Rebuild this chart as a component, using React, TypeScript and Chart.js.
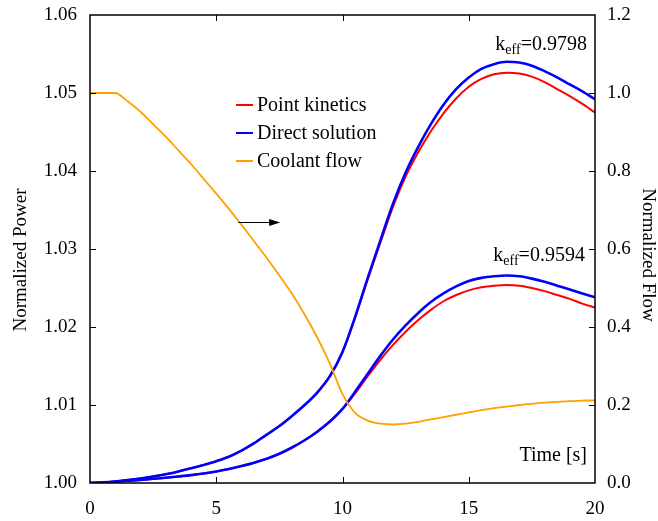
import { useEffect, useRef } from "react";
import { Chart, registerables } from "chart.js";

Chart.register(...registerables);

// ---- data ----
const time = [
  0, 0.5, 1, 1.5, 2, 2.5, 3, 3.5, 4, 4.5, 5, 5.5, 6, 6.5, 7, 7.5, 8, 8.5, 9, 9.5, 10,
  10.5, 11, 11.5, 12, 12.5, 13, 13.5, 14, 14.5, 15, 15.5, 16, 16.5, 17, 17.5, 18, 18.5, 19, 19.5, 20,
];

// keff = 0.9798, direct solution
const directHigh = [
  1.0, 1.00008, 1.0002, 1.00037, 1.00058, 1.00083, 1.00112, 1.00148, 1.00188, 1.00232, 1.0028, 1.00337,
  1.00415, 1.0051, 1.0062, 1.0073, 1.0086, 1.01, 1.0116, 1.0137, 1.0168, 1.0213, 1.0263, 1.0311, 1.0358,
  1.0398, 1.0431, 1.046, 1.0485, 1.0505, 1.052, 1.0531, 1.0537, 1.054, 1.0539, 1.0535, 1.0528, 1.052,
  1.0511, 1.0502, 1.0492,
];
// keff = 0.9798, point kinetics
const pointHigh = [
  1.0, 1.00008, 1.0002, 1.00037, 1.00058, 1.00083, 1.00112, 1.00148, 1.00188, 1.00232, 1.0028, 1.00337,
  1.00415, 1.0051, 1.0062, 1.0073, 1.0086, 1.01, 1.0116, 1.0137, 1.0168, 1.0212, 1.0261, 1.0308, 1.0354,
  1.0393, 1.0424, 1.0451, 1.0474, 1.0493, 1.0508, 1.0518, 1.0524, 1.0526, 1.0525, 1.0521, 1.0514, 1.0505,
  1.0496, 1.0486, 1.0475,
];
// keff = 0.9594, direct solution
const directLow = [
  1.0, 1.00005, 1.00015, 1.00028, 1.0004, 1.00054, 1.00068, 1.00084, 1.00101, 1.00122, 1.00148, 1.0018,
  1.00217, 1.0026, 1.00311, 1.00375, 1.00455, 1.00548, 1.00658, 1.00788, 1.0095, 1.0117, 1.014, 1.0163,
  1.0184, 1.0202, 1.0218, 1.0232, 1.0243, 1.0252, 1.0259, 1.0263, 1.0265, 1.0266, 1.0265, 1.0262, 1.0258,
  1.0253, 1.0248, 1.0243, 1.0238,
];
// keff = 0.9594, point kinetics
const pointLow = [
  1.0, 1.00005, 1.00015, 1.00028, 1.0004, 1.00054, 1.00068, 1.00084, 1.00101, 1.00122, 1.00148, 1.0018,
  1.00217, 1.0026, 1.00311, 1.00375, 1.00455, 1.00548, 1.00658, 1.00788, 1.0095, 1.0115, 1.0137, 1.0158,
  1.0177, 1.0194, 1.0209, 1.0222, 1.0233, 1.0241, 1.0247, 1.0251, 1.0253, 1.0254, 1.0253, 1.025, 1.0246,
  1.0241, 1.0236, 1.023, 1.0225,
];
// normalized coolant flow (right axis)
const coolantFlow = [
  1.0, 1.0, 1.0, 0.978, 0.952, 0.92, 0.888, 0.853, 0.818, 0.78, 0.742, 0.703, 0.662, 0.62, 0.577, 0.532,
  0.485, 0.432, 0.373, 0.306, 0.228, 0.18, 0.16, 0.152, 0.15, 0.152, 0.157, 0.163, 0.169, 0.175, 0.181,
  0.187, 0.192, 0.196, 0.2, 0.203, 0.206, 0.208, 0.21, 0.211, 0.212,
];

const seriesLabels = ["Point kinetics", "Direct solution", "Coolant flow"];
const axisTitles = ["Normalized Power", "Normalized Flow"];
const keffLabels = ["0.9798", "0.9594"];
const keffAnchors = [
  { x: 19.68, y: 1.0555 },
  { x: 19.6, y: 1.0284 },
];
const arrowFrom = { x: 5.87, y: 0.668 };
const arrowTo = { x: 7.53, y: 0.668 };

const RED = "#ff0000";
const BLUE = "#0000ff";
const ORANGE = "#ffa000";
const FONT = '"Liberation Serif", "Times New Roman", serif';

const pts = (ys: number[]) => time.map((t, i) => ({ x: t, y: ys[i] }));

const decorPlugin = {
  id: "decor",
  afterDatasetsDraw(chart: any) {
    const { ctx, chartArea: a, scales } = chart;
    const xs = scales.x;
    const yl = scales.y;
    const yr = scales.y2;
    ctx.save();
    // frame
    ctx.strokeStyle = "#000";
    ctx.lineWidth = 1.5;
    ctx.strokeRect(a.left, a.top, a.right - a.left, a.bottom - a.top);
    // inward ticks
    ctx.lineWidth = 1;
    const tl = 6;
    ctx.beginPath();
    for (const v of [5, 10, 15]) {
      const px = Math.round(xs.getPixelForValue(v)) + 0.5;
      ctx.moveTo(px, a.bottom);
      ctx.lineTo(px, a.bottom - tl);
      ctx.moveTo(px, a.top);
      ctx.lineTo(px, a.top + tl);
    }
    for (let k = 1; k < 6; k++) {
      const py = Math.round(yl.getPixelForValue(1 + k * 0.01)) + 0.5;
      ctx.moveTo(a.left, py);
      ctx.lineTo(a.left + tl, py);
    }
    for (let k = 1; k < 6; k++) {
      const py = Math.round(yr.getPixelForValue(k * 0.2)) + 0.5;
      ctx.moveTo(a.right, py);
      ctx.lineTo(a.right - tl, py);
    }
    ctx.stroke();

    // axis titles
    ctx.fillStyle = "#000";
    ctx.font = `19px ${FONT}`;
    ctx.textAlign = "center";
    ctx.textBaseline = "middle";
    const midY = (a.top + a.bottom) / 2;
    ctx.save();
    ctx.translate(a.left - 69, midY + 11);
    ctx.rotate(-Math.PI / 2);
    ctx.fillText(axisTitles[0], 0, 0);
    ctx.restore();
    ctx.save();
    ctx.translate(a.right + 53, midY + 6);
    ctx.rotate(Math.PI / 2);
    ctx.fillText(axisTitles[1], 0, 0);
    ctx.restore();

    // legend
    const colors = [RED, BLUE, ORANGE];
    const lx = a.left + 146;
    const ly = a.top + 90;
    ctx.font = `20px ${FONT}`;
    ctx.textBaseline = "middle";
    ctx.textAlign = "left";
    seriesLabels.forEach((lab, i) => {
      const y = ly + i * 28;
      ctx.strokeStyle = colors[i];
      ctx.lineWidth = 2;
      ctx.beginPath();
      ctx.moveTo(lx, y);
      ctx.lineTo(lx + 17, y);
      ctx.stroke();
      ctx.fillStyle = "#000";
      ctx.fillText(lab, lx + 21, y + 1);
    });

    // keff labels
    ctx.textBaseline = "alphabetic";
    keffLabels.forEach((val, i) => {
      const px = xs.getPixelForValue(keffAnchors[i].x);
      const py = yl.getPixelForValue(keffAnchors[i].y);
      const big = `20px ${FONT}`;
      const small = `14px ${FONT}`;
      ctx.font = big;
      const wk = ctx.measureText("k").width;
      const wv = ctx.measureText("=" + val).width;
      ctx.font = small;
      const we = ctx.measureText("eff").width;
      const x0 = px - (wk + we + wv);
      ctx.fillStyle = "#000";
      ctx.font = big;
      ctx.fillText("k", x0, py);
      ctx.font = small;
      ctx.fillText("eff", x0 + wk, py + 4);
      ctx.font = big;
      ctx.fillText("=" + val, x0 + wk + we, py);
    });

    // Time [s]
    ctx.font = `20px ${FONT}`;
    ctx.textAlign = "right";
    ctx.textBaseline = "middle";
    ctx.fillText("Time [s]", a.right - 8, a.bottom - 27);

    // arrow
    const ax0 = xs.getPixelForValue(arrowFrom.x);
    const ax1 = xs.getPixelForValue(arrowTo.x);
    const ay = Math.round(yr.getPixelForValue(arrowFrom.y)) + 0.5;
    ctx.strokeStyle = "#000";
    ctx.lineWidth = 1;
    ctx.beginPath();
    ctx.moveTo(ax0, ay);
    ctx.lineTo(ax1 - 8, ay);
    ctx.stroke();
    ctx.fillStyle = "#000";
    ctx.beginPath();
    ctx.moveTo(ax1, ay);
    ctx.lineTo(ax1 - 11, ay - 3.5);
    ctx.lineTo(ax1 - 11, ay + 3.5);
    ctx.closePath();
    ctx.fill();
    ctx.restore();
  },
};

export default function App() {
  const ref = useRef<HTMLCanvasElement | null>(null);
  useEffect(() => {
    if (!ref.current) return;
    const tickFont = { family: FONT, size: 19 };
    const line = (data: any, color: string, width: number, order: number, axis = "y") => ({
      data,
      borderColor: color,
      backgroundColor: color,
      borderWidth: width,
      pointRadius: 0,
      fill: false,
      cubicInterpolationMode: "monotone" as const,
      yAxisID: axis,
      order,
    });
    const noPad = (s: any) => {
      s.paddingTop = 0;
      s.paddingBottom = 0;
      s.paddingLeft = 0;
      s.paddingRight = 0;
    };
    const chart = new Chart(ref.current, {
      type: "line",
      data: {
        datasets: [
          line(pts(pointHigh), RED, 2, 3),
          line(pts(pointLow), RED, 2, 3),
          line(pts(directHigh), BLUE, 2.6, 2),
          line(pts(directLow), BLUE, 2.6, 2),
          line(pts(coolantFlow), ORANGE, 1.8, 1, "y2"),
        ],
      },
      options: {
        animation: false,
        responsive: false,
        layout: { padding: { top: 15, left: 0, right: 0, bottom: 0 } },
        plugins: { legend: { display: false }, tooltip: { enabled: false } },
        scales: {
          x: {
            type: "linear",
            min: 0,
            max: 20,
            grid: { display: false, drawTicks: false },
            border: { display: false },
            ticks: { stepSize: 5, font: tickFont, color: "#000", padding: 15, maxRotation: 0 },
            afterFit: (s: any) => {
              s.height = 38;
              noPad(s);
            },
          },
          y: {
            position: "left",
            min: 1.0,
            max: 1.06,
            grid: { display: false, drawTicks: false },
            border: { display: false },
            ticks: {
              stepSize: 0.01,
              font: tickFont,
              color: "#000",
              padding: 13,
              callback: (v: any) => Number(v).toFixed(2),
            },
            afterFit: (s: any) => {
              s.width = 90;
              noPad(s);
            },
          },
          y2: {
            position: "right",
            min: 0,
            max: 1.2,
            grid: { display: false, drawTicks: false },
            border: { display: false },
            ticks: {
              stepSize: 0.2,
              font: tickFont,
              color: "#000",
              padding: 12,
              callback: (v: any) => Number(v).toFixed(1),
            },
            afterFit: (s: any) => {
              s.width = 63;
              noPad(s);
            },
          },
        },
      },
      plugins: [decorPlugin],
    });
    return () => chart.destroy();
  }, []);
  return (
    <div style={{ position: "absolute", left: 0, top: 0, width: 658, height: 521, background: "#fff" }}>
      <canvas ref={ref} width={658} height={521} />
    </div>
  );
}
